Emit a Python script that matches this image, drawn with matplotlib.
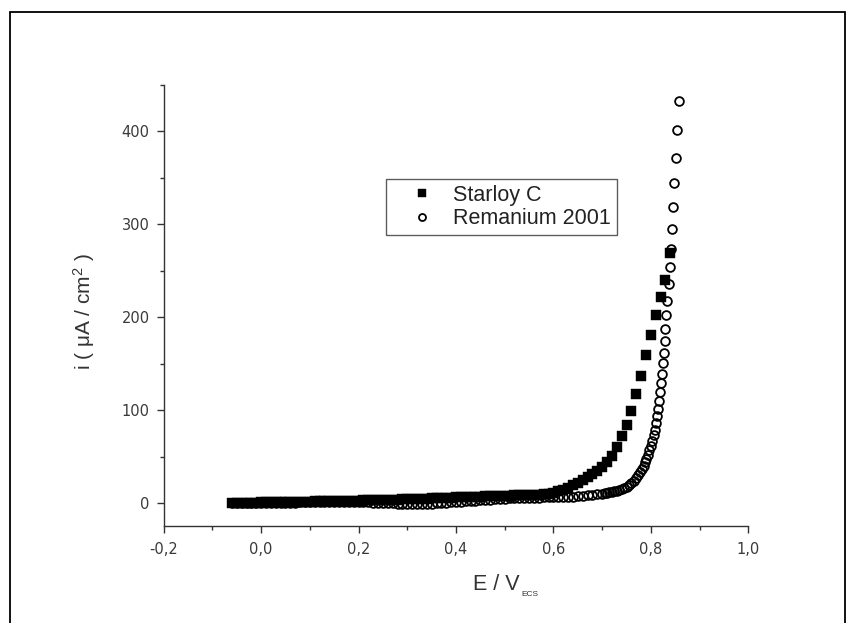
import matplotlib
matplotlib.use('Agg')
import matplotlib.pyplot as plt
from matplotlib.patches import Rectangle
from matplotlib.ticker import MultipleLocator, FuncFormatter

# ---------------- data ----------------
starloy_E = [-0.06, -0.05, -0.04, -0.03, -0.02, -0.01, 0.00,
             0.01, 0.02, 0.03, 0.04, 0.05, 0.06, 0.07, 0.08, 0.09, 0.10,
             0.11, 0.12, 0.13, 0.14, 0.15, 0.16, 0.17, 0.18, 0.19, 0.20,
             0.21, 0.22, 0.23, 0.24, 0.25, 0.26, 0.27, 0.28, 0.29, 0.30,
             0.31, 0.32, 0.33, 0.34, 0.35, 0.36, 0.37, 0.38, 0.39, 0.40,
             0.41, 0.42, 0.43, 0.44, 0.45, 0.46, 0.47, 0.48, 0.49, 0.50,
             0.51, 0.52, 0.53, 0.54, 0.55, 0.56, 0.57, 0.58, 0.59, 0.60,
             0.61, 0.62, 0.63, 0.64, 0.65, 0.66, 0.67, 0.68, 0.69, 0.70,
             0.71, 0.72, 0.73, 0.74, 0.75, 0.76, 0.77, 0.78, 0.79, 0.80,
             0.81, 0.82, 0.83, 0.84]
starloy_i = [0.3, 0.5, 0.6, 0.7, 0.8, 0.9, 1.0,
             1.1, 1.2, 1.3, 1.4, 1.5, 1.6, 1.7, 1.8, 1.9, 2.0,
             2.1, 2.2, 2.3, 2.4, 2.5, 2.6, 2.7, 2.8, 2.9, 3.0,
             3.1, 3.2, 3.3, 3.5, 3.6, 3.8, 3.9, 4.1, 4.2, 4.4,
             4.6, 4.8, 5.0, 5.2, 5.4, 5.6, 5.8, 6.0, 6.2, 6.4,
             6.6, 6.8, 7.0, 7.1, 7.3, 7.5, 7.6, 7.8, 8.0, 8.1,
             8.3, 8.5, 8.6, 8.8, 9.0, 9.2, 9.5, 9.8, 10.2, 10.8,
             13.0, 14.8, 17.0, 19.5, 22.0, 24.8, 28.0, 31.5, 35.0, 39.5,
             44.5, 51.0, 60.5, 72.0, 84.5, 99.0, 117.5, 137.0, 159.0, 181.5,
             202.0, 221.5, 240.5, 269.0]

remanium_E = [-0.06, -0.05, -0.04, -0.03, -0.02, -0.01, 0.00,
              0.01, 0.02, 0.03, 0.04, 0.05, 0.06, 0.07, 0.08, 0.09, 0.10,
              0.11, 0.12, 0.13, 0.14, 0.15, 0.16, 0.17, 0.18, 0.19, 0.20,
              0.21, 0.22, 0.23, 0.24, 0.25, 0.26, 0.27, 0.28, 0.29, 0.30,
              0.31, 0.32, 0.33, 0.34, 0.35, 0.36, 0.37, 0.38, 0.39, 0.40,
              0.41, 0.42, 0.43, 0.44, 0.45, 0.46, 0.47, 0.48, 0.49, 0.50,
              0.51, 0.52, 0.53, 0.54, 0.55, 0.56, 0.57, 0.58, 0.59, 0.60,
              0.61, 0.62, 0.63, 0.64, 0.65, 0.66, 0.67, 0.68, 0.69, 0.70,
              0.705, 0.71, 0.715, 0.72, 0.725, 0.73, 0.735, 0.74, 0.745, 0.75,
              0.755, 0.76, 0.765, 0.77, 0.774, 0.778, 0.782, 0.785, 0.788, 0.791,
              0.794, 0.797, 0.800, 0.803, 0.806, 0.808, 0.810, 0.812, 0.814, 0.816,
              0.818, 0.820, 0.822, 0.824, 0.826, 0.828, 0.830, 0.832, 0.834, 0.837,
              0.840, 0.842, 0.844, 0.846, 0.848, 0.851, 0.854, 0.857]
remanium_i = [0.2, 0.3, 0.4, 0.4, 0.5, 0.5, 0.6,
              0.6, 0.7, 0.7, 0.8, 0.8, 0.9, 0.9, 1.0, 1.0, 1.0,
              1.1, 1.1, 1.1, 1.2, 1.2, 1.2, 1.2, 1.3, 1.3, 1.3,
              1.2, 1.0, 0.8, 0.6, 0.4, 0.2, 0.0, -0.3, -0.6, -0.8,
              -1.0, -1.2, -1.0, -0.6, -0.2, 0.2, 0.5, 0.9, 1.3, 1.7,
              2.0, 2.3, 2.6, 2.9, 3.2, 3.6, 4.0, 4.4, 4.8, 5.2,
              5.4, 5.6, 5.8, 6.0, 6.1, 6.2, 6.3, 6.4, 6.5, 6.5,
              6.6, 6.8, 7.0, 7.2, 7.8, 8.4, 9.0, 9.5, 10.0, 10.5,
              11.0, 11.5, 12.0, 12.6, 13.2, 13.8, 14.5, 15.3, 16.5, 17.8,
              19.5, 21.5, 24.0, 27.0, 30.0, 33.5, 37.0, 40.5, 44.0, 48.0,
              52.5, 57.0, 62.0, 67.5, 73.5, 79.0, 86.0, 93.5, 101.5, 110.0,
              119.5, 129.5, 139.5, 150.5, 162.0, 174.5, 187.5, 202.0, 218.0, 235.5,
              254.0, 273.5, 295.0, 318.5, 344.0, 371.0, 401.0, 433.0]

series_labels = ['Starloy C', 'Remanium 2001']
x_label = 'E / V'
x_label_sub = 'ECS'
y_label = 'i ( μA / cm$^{2}$ )'

# ---------------- style ----------------
plt.rcParams['font.family'] = ['Liberation Sans', 'DejaVu Sans']
plt.rcParams['mathtext.fontset'] = 'custom'
plt.rcParams['mathtext.rm'] = 'Liberation Sans'
plt.rcParams['mathtext.it'] = 'Liberation Sans:italic'

W, H = 854, 623
fig = plt.figure(figsize=(W / 100, H / 100), dpi=100)
fig.patch.set_facecolor('white')

ax_l, ax_r, ax_t, ax_b = 163.7, 748.3, 84.8, 525.7
ax = fig.add_axes([ax_l / W, 1 - ax_b / H, (ax_r - ax_l) / W, (ax_b - ax_t) / H])

ax.plot(starloy_E, starloy_i, 's', ms=6.6, color='black', mec='black', mew=0.3,
        label=series_labels[0], zorder=3, clip_on=False)
ax.plot(remanium_E, remanium_i, 'o', ms=6.3, mfc='none', mec='black', mew=1.3,
        label=series_labels[1], zorder=4, clip_on=False)

ax.set_xlim(-0.2, 1.0)
ax.set_ylim(-24, 450)

for s in ['top', 'right']:
    ax.spines[s].set_visible(False)
for s in ['left', 'bottom']:
    ax.spines[s].set_color('#333333')
    ax.spines[s].set_linewidth(1.0)

ax.xaxis.set_major_locator(MultipleLocator(0.2))
ax.xaxis.set_minor_locator(MultipleLocator(0.1))
ax.yaxis.set_major_locator(MultipleLocator(100))
ax.yaxis.set_minor_locator(MultipleLocator(50))
ax.xaxis.set_major_formatter(FuncFormatter(lambda v, p: f'{v:.1f}'.replace('.', ',').replace('-0,0', '0,0')))
ax.yaxis.set_major_formatter(FuncFormatter(lambda v, p: f'{int(round(v))}'))

ax.tick_params(which='major', direction='out', length=5, width=1.0, color='#333333',
               labelsize=10.5, labelcolor='#3a3a3a', labelfontfamily='DejaVu Sans')
ax.tick_params(which='minor', direction='out', length=3, width=1.0, color='#333333')
ax.tick_params(axis='x', which='major', pad=7)
ax.tick_params(axis='y', which='major', pad=5)

# axis labels
fig.text(84 / W, 1 - 312 / H, y_label, rotation=90, ha='center', va='center',
         fontsize=15, color='#333333')
t = fig.text(473 / W, 1 - 585 / H, x_label, ha='left', va='center',
             fontsize=15.5, color='#333333')
ax.annotate(x_label_sub, xy=(1, 0), xycoords=t, xytext=(1, 1), textcoords='offset points',
            ha='left', va='center', fontsize=6, color='#333333')

# legend
leg = ax.legend(loc='upper left', bbox_to_anchor=((385.6 - ax_l) / (ax_r - ax_l),
                                                   (ax_b - 179.3) / (ax_b - ax_t)),
                borderaxespad=0, borderpad=0.25, handlelength=2.9, handletextpad=0.0,
                labelspacing=0.12, fontsize=15.5, frameon=True, fancybox=False,
                markerscale=0.8)
leg.get_frame().set_edgecolor('#333333')
leg.get_frame().set_linewidth(1.0)
for txt in leg.get_texts():
    txt.set_color('#222222')

# figure border
fig.add_artist(Rectangle((10 / W, -0.05), (845 - 10) / W, (1 - 12 / H) + 0.05,
                         transform=fig.transFigure, fill=False, ec='black', lw=1.3))

fig.savefig('out.png', dpi=100)
